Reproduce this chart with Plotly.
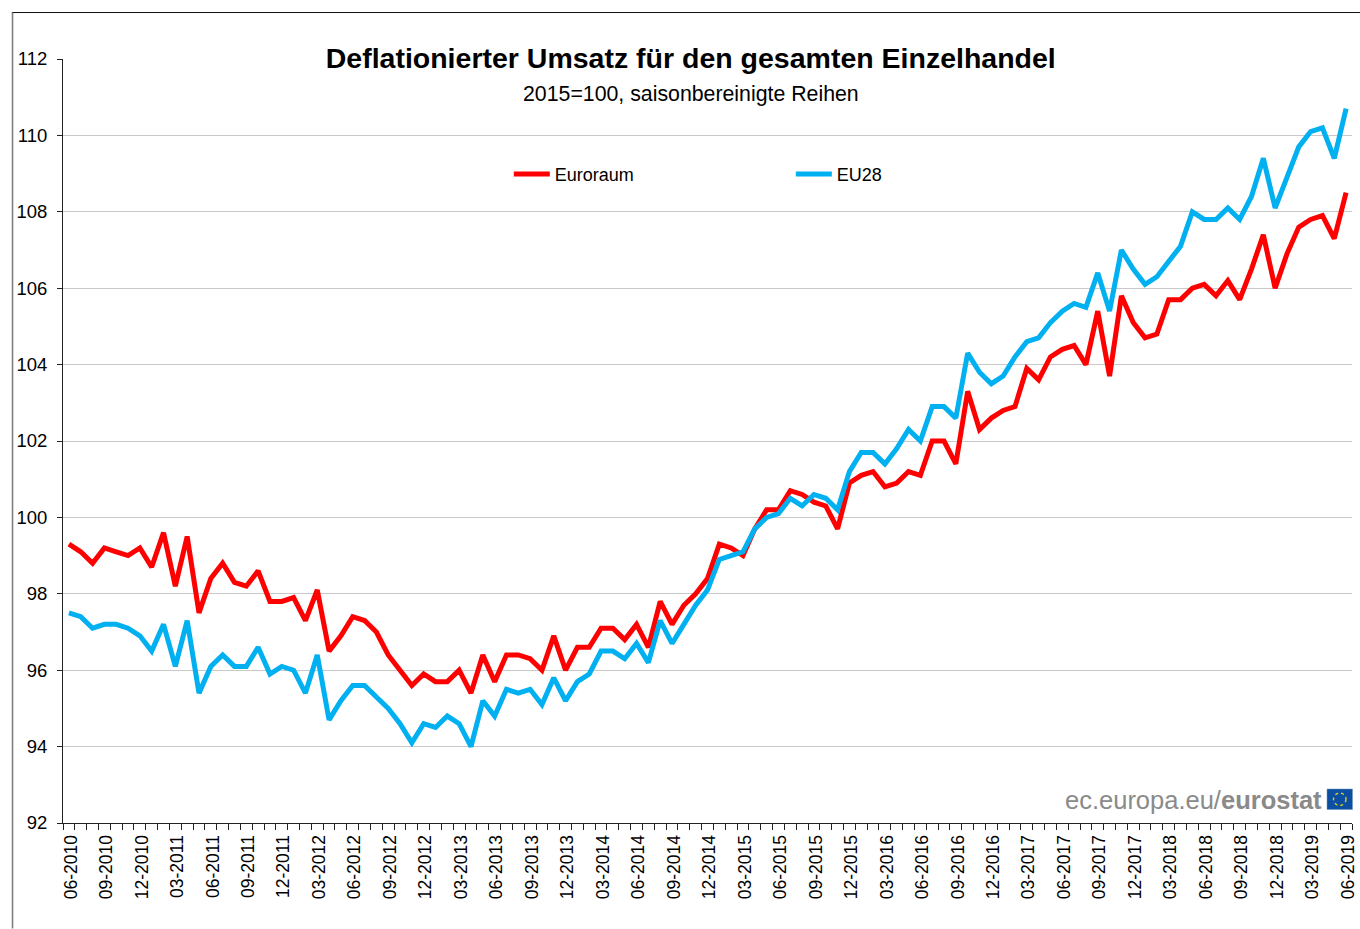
import plotly.graph_objects as go

FONT = "Liberation Sans, Arial, sans-serif"
W, H = 1360, 929
L, R, T, B = 62.5, 8, 59, 105.5

first_year, first_month = 2010, 6
months = [f"{(first_month - 1 + i) % 12 + 1:02d}-{first_year + (first_month - 1 + i) // 12}" for i in range(109)]

euroraum = [
    99.3, 99.1, 98.8, 99.2, 99.1, 99.0, 99.2,
    98.7, 99.6, 98.2, 99.5, 97.5, 98.4, 98.8, 98.3, 98.2, 98.6, 97.8, 97.8,
    97.9, 97.3, 98.1, 96.5, 96.9, 97.4, 97.3, 97.0, 96.4, 96.0, 95.6, 95.9,
    95.7, 95.7, 96.0, 95.4, 96.4, 95.7, 96.4, 96.4, 96.3, 96.0, 96.9, 96.0,
    96.6, 96.6, 97.1, 97.1, 96.8, 97.2, 96.6, 97.8, 97.2, 97.7, 98.0, 98.4,
    99.3, 99.2, 99.0, 99.7, 100.2, 100.2, 100.7, 100.6, 100.4, 100.3, 99.7, 100.9,
    101.1, 101.2, 100.8, 100.9, 101.2, 101.1, 102.0, 102.0, 101.4, 103.3, 102.3, 102.6,
    102.8, 102.9, 103.9, 103.6, 104.2, 104.4, 104.5, 104.0, 105.4, 103.7, 105.8, 105.1,
    104.7, 104.8, 105.7, 105.7, 106.0, 106.1, 105.8, 106.2, 105.7, 106.5, 107.4, 106.0,
    106.9, 107.6, 107.8, 107.9, 107.3, 108.5,
]
eu28 = [
    97.5, 97.4, 97.1, 97.2, 97.2, 97.1, 96.9,
    96.5, 97.2, 96.1, 97.3, 95.4, 96.1, 96.4, 96.1, 96.1, 96.6, 95.9, 96.1,
    96.0, 95.4, 96.4, 94.7, 95.2, 95.6, 95.6, 95.3, 95.0, 94.6, 94.1, 94.6,
    94.5, 94.8, 94.6, 94.0, 95.2, 94.8, 95.5, 95.4, 95.5, 95.1, 95.8, 95.2,
    95.7, 95.9, 96.5, 96.5, 96.3, 96.7, 96.2, 97.3, 96.7, 97.2, 97.7, 98.1,
    98.9, 99.0, 99.1, 99.7, 100.0, 100.1, 100.5, 100.3, 100.6, 100.5, 100.2, 101.2,
    101.7, 101.7, 101.4, 101.8, 102.3, 102.0, 102.9, 102.9, 102.6, 104.3, 103.8, 103.5,
    103.7, 104.2, 104.6, 104.7, 105.1, 105.4, 105.6, 105.5, 106.4, 105.4, 107.0, 106.5,
    106.1, 106.3, 106.7, 107.1, 108.0, 107.8, 107.8, 108.1, 107.8, 108.4, 109.4, 108.1,
    108.9, 109.7, 110.1, 110.2, 109.4, 110.7,
]
tick_text = [m if i % 3 == 0 else "" for i, m in enumerate(months)]
y_ticks = list(range(92, 113, 2))


def px(x):
    return (x - L) / (W - L - R)


def py(y):
    return (H - B - y) / (H - T - B)


fig = go.Figure()
fig.add_trace(go.Scatter(x=months, y=euroraum, name="Euroraum", mode="lines",
                         line=dict(color="#ff0000", width=5), hoverinfo="x+y"))
fig.add_trace(go.Scatter(x=months, y=eu28, name="EU28", mode="lines",
                         line=dict(color="#00b0f0", width=5), hoverinfo="x+y"))

shapes = [
    dict(type="line", xref="paper", yref="paper", x0=px(12), x1=px(12), y0=py(12), y1=py(H),
         line=dict(color="#7f7f7f", width=1.6), layer="below"),
    dict(type="line", xref="paper", yref="paper", x0=px(12), x1=px(W), y0=py(12.5), y1=py(12.5),
         line=dict(color="#111111", width=1), layer="below"),
    dict(type="rect", xref="paper", yref="paper", x0=px(1327), x1=px(1352.5), y0=py(789.5), y1=py(810),
         fillcolor="#0b4ea2", line=dict(color="#6f94c4", width=0.5), layer="above"),
    dict(type="circle", xref="paper", yref="paper", x0=px(1333.5), x1=px(1346), y0=py(793.5), y1=py(806),
         line=dict(color="#d8d020", width=1.4, dash="dot"), fillcolor="rgba(0,0,0,0)", layer="above"),
]

annotations = [
    dict(text="2015=100, saisonbereinigte Reihen", xref="paper", yref="paper",
         x=px(691), y=py(94), xanchor="center", yanchor="middle", showarrow=False,
         font=dict(family=FONT, size=21.3, color="#000000")),
    dict(text='ec.europa.eu/<b>eurostat</b>', xref="paper", yref="paper",
         x=px(1324), y=py(800), xanchor="right", yanchor="middle", showarrow=False,
         font=dict(family=FONT, size=25.5, color="#8a8a8a")),
]

fig.update_layout(
    width=W, height=H, autosize=False,
    margin=dict(l=L, r=R, t=T, b=B, pad=0),
    paper_bgcolor="#ffffff", plot_bgcolor="#ffffff",
    font=dict(family=FONT, color="#000000"),
    title=dict(text="<b>Deflationierter Umsatz für den gesamten Einzelhandel</b>",
               x=px(690.5), xref="paper", xanchor="center",
               y=1 - 58 / H, yref="container", yanchor="middle",
               font=dict(family=FONT, size=28.5, color="#000000")),
    legend=dict(orientation="h", x=px(508.5), y=py(174.5), xanchor="left", yanchor="middle",
                xref="paper", yref="paper", entrywidth=231, entrywidthmode="pixels",
                itemwidth=36, bgcolor="rgba(0,0,0,0)", traceorder="normal",
                font=dict(family=FONT, size=18, color="#000000")),
    shapes=shapes, annotations=annotations,
    xaxis=dict(type="category", categoryorder="array", categoryarray=months,
               range=[-0.5, 108.5], tickmode="array", tickvals=months, ticktext=tick_text,
               tickson="boundaries", ticks="outside", ticklen=6, tickwidth=1, tickcolor="#222222",
               tickangle=-90, tickfont=dict(family=FONT, size=17.5, color="#000000"),
               ticklabelstandoff=4, ticklabelshift=2,
               showgrid=False, showline=True, linecolor="#222222", linewidth=1, zeroline=False,
               automargin=False),
    yaxis=dict(range=[92, 112], tickmode="array", tickvals=y_ticks,
               ticks="outside", ticklen=5, tickwidth=1, tickcolor="#222222",
               tickfont=dict(family=FONT, size=18.5, color="#000000"),
               ticklabelstandoff=6,
               showgrid=True, gridcolor="#c9c9c9", gridwidth=1,
               showline=True, linecolor="#222222", linewidth=1, zeroline=False,
               automargin=False),
)
fig.write_html("out.html", config=dict(displayModeBar=False),
               post_script="document.body.style.margin='0';document.documentElement.style.overflow='hidden';")
